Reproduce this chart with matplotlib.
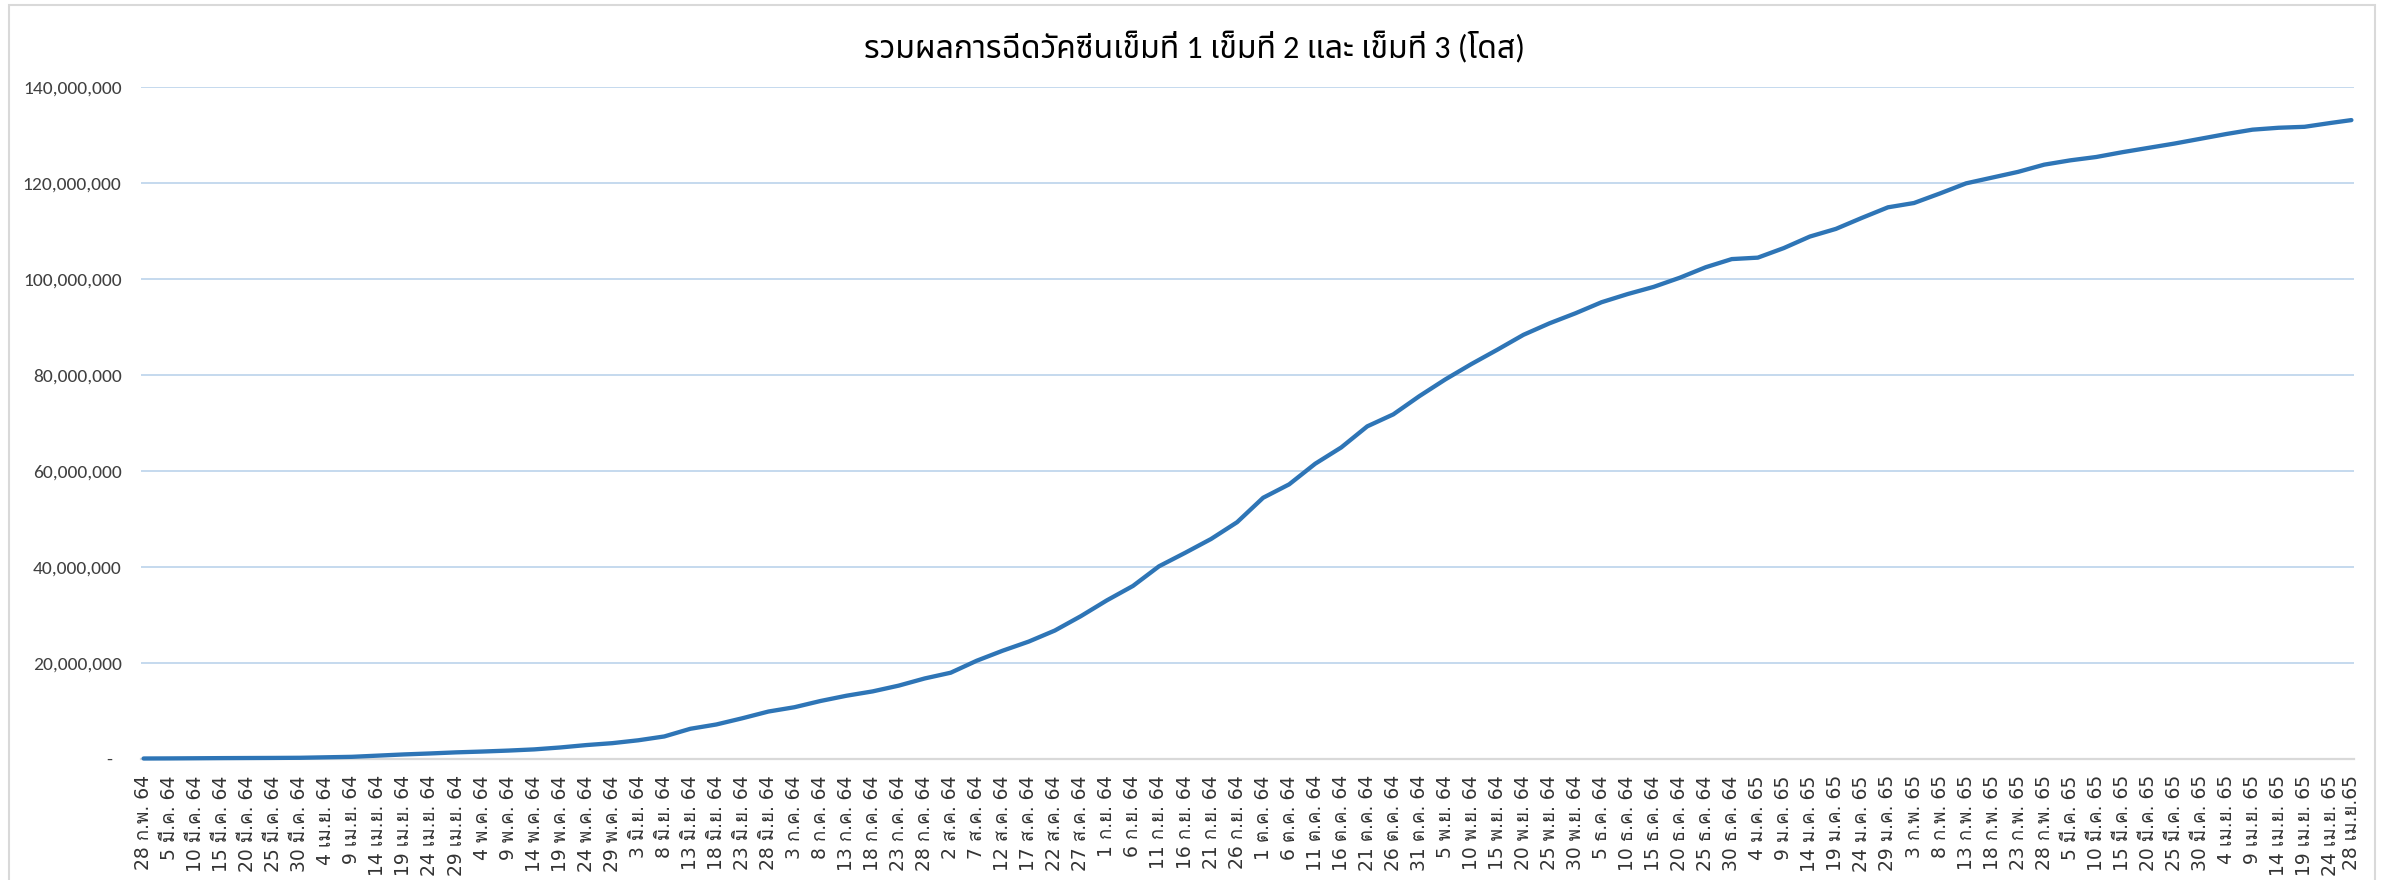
import matplotlib
matplotlib.use("Agg")
import matplotlib.pyplot as plt
from matplotlib import font_manager as fm
from matplotlib.patches import Rectangle
from matplotlib.ticker import FuncFormatter
import pandas as pd

# ---------------- data ----------------
title = "รวมผลการฉีดวัคซีนเข็มที่ 1 เข็มที่ 2 และ เข็มที่ 3 (โดส)"
first_day = "2021-02-28"
last_day = "2022-04-28"

tick_labels = [
    "28 ก.พ. 64", "5 มี.ค. 64", "10 มี.ค. 64", "15 มี.ค. 64", "20 มี.ค. 64", "25 มี.ค. 64",
    "30 มี.ค. 64", "4 เม.ย. 64", "9 เม.ย. 64", "14 เม.ย. 64", "19 เม.ย. 64", "24 เม.ย. 64",
    "29 เม.ย. 64", "4 พ.ค. 64", "9 พ.ค. 64", "14 พ.ค. 64", "19 พ.ค. 64", "24 พ.ค. 64",
    "29 พ.ค. 64", "3 มิ.ย. 64", "8 มิ.ย. 64", "13 มิ.ย. 64", "18 มิ.ย. 64", "23 มิ.ย. 64",
    "28 มิ.ย. 64", "3 ก.ค. 64", "8 ก.ค. 64", "13 ก.ค. 64", "18 ก.ค. 64", "23 ก.ค. 64",
    "28 ก.ค. 64", "2 ส.ค. 64", "7 ส.ค. 64", "12 ส.ค. 64", "17 ส.ค. 64", "22 ส.ค. 64",
    "27 ส.ค. 64", "1 ก.ย. 64", "6 ก.ย. 64", "11 ก.ย. 64", "16 ก.ย. 64", "21 ก.ย. 64",
    "26 ก.ย. 64", "1 ต.ค. 64", "6 ต.ค. 64", "11 ต.ค. 64", "16 ต.ค. 64", "21 ต.ค. 64",
    "26 ต.ค. 64", "31 ต.ค. 64", "5 พ.ย. 64", "10 พ.ย. 64", "15 พ.ย. 64", "20 พ.ย. 64",
    "25 พ.ย. 64", "30 พ.ย. 64", "5 ธ.ค. 64", "10 ธ.ค. 64", "15 ธ.ค. 64", "20 ธ.ค. 64",
    "25 ธ.ค. 64", "30 ธ.ค. 64", "4 ม.ค. 65", "9 ม.ค. 65", "14 ม.ค. 65", "19 ม.ค. 65",
    "24 ม.ค. 65", "29 ม.ค. 65", "3 ก.พ. 65", "8 ก.พ. 65", "13 ก.พ. 65", "18 ก.พ. 65",
    "23 ก.พ. 65", "28 ก.พ. 65", "5 มี.ค. 65", "10 มี.ค. 65", "15 มี.ค. 65", "20 มี.ค. 65",
    "25 มี.ค. 65", "30 มี.ค. 65", "4 เม.ย. 65", "9 เม.ย. 65", "14 เม.ย. 65", "19 เม.ย. 65",
    "24 เม.ย. 65", "28 เม.ย.65",
]

# cumulative doses (millions) at each labelled date
doses_million = [
    0.00, 0.02, 0.05, 0.08, 0.10, 0.12,
    0.15, 0.25, 0.35, 0.60, 0.85, 1.05,
    1.28, 1.45, 1.65, 1.90, 2.30, 2.80,
    3.20, 3.80, 4.60, 6.20, 7.10, 8.40,
    9.80, 10.7, 12.0, 13.1, 14.0, 15.2,
    16.7, 17.9, 20.4, 22.5, 24.4, 26.7,
    29.7, 33.0, 36.0, 40.1, 42.9, 45.8,
    49.3, 54.4, 57.2, 61.5, 64.9, 69.3,
    71.8, 75.6, 79.1, 82.3, 85.3, 88.4,
    90.8, 92.9, 95.2, 96.9, 98.4, 100.3,
    102.5, 104.2, 104.5, 106.5, 108.9, 110.5,
    112.8, 115.0, 115.9, 117.9, 120.0, 121.2,
    122.4, 123.9, 124.8, 125.5, 126.5, 127.4,
    128.3, 129.3, 130.3, 131.2, 131.6, 131.8,
    132.6, 133.2,
]

y_ticks = [0, 20e6, 40e6, 60e6, 80e6, 100e6, 120e6, 140e6]

# ---------------- fonts ----------------
avail = {f.name for f in fm.fontManager.ttflist}


def pick(*names):
    return [n for n in names if n in avail] or ["DejaVu Sans"]


num_font = pick("Carlito", "Liberation Sans Narrow", "DejaVu Sans")
thai_title_font = num_font + pick("Noto Sans Thai", "Loma", "Sarabun")
tick_font = pick("DejaVu Sans") + pick("Loma", "Noto Sans Thai", "Sarabun")

# ---------------- positions on the category (daily) axis ----------------
sample_dates = list(pd.date_range(first_day, "2022-04-24", freq="5D")) + [pd.Timestamp(last_day)]
x_pos = [(d - pd.Timestamp(first_day)).days for d in sample_dates]
n_days = (pd.Timestamp(last_day) - pd.Timestamp(first_day)).days + 1
y_vals = [v * 1e6 for v in doses_million]

# ---------------- figure ----------------
W, H = 2389, 880
fig = plt.figure(figsize=(W / 100, H / 100), dpi=100)
fig.patch.set_facecolor("white")

left, right = 141 / W, 2354 / W
bottom, top = 1 - 758.5 / H, 1 - 87.5 / H
ax = fig.add_axes([left, bottom, right - left, top - bottom])

ax.plot(x_pos, y_vals, color="#2E75B6", lw=3.1, solid_joinstyle="round",
        solid_capstyle="round", zorder=3, clip_on=False)

ax.set_xlim(-0.5, n_days - 0.5)
ax.set_ylim(0, 140e6)
ax.set_yticks(y_ticks)
ax.yaxis.set_major_formatter(FuncFormatter(lambda v, p: f"{v:,.0f}" if v else "-  "))
ax.grid(axis="y", color="#C5D9EE", lw=1.4, zorder=0)
ax.set_axisbelow(True)

for s in ["top", "right", "left"]:
    ax.spines[s].set_visible(False)
ax.spines["bottom"].set_color("#D9D9D9")
ax.spines["bottom"].set_linewidth(1.6)

ax.set_xticks(x_pos)
ax.set_xticklabels(tick_labels, rotation=90, family=tick_font, fontsize=13.5,
                   color="#333333")
ax.tick_params(axis="x", length=0, pad=12)
ax.tick_params(axis="y", length=0, pad=14, labelsize=14, labelcolor="#404040")
for lab in ax.get_yticklabels():
    lab.set_family(num_font)

fig.text(0.5, 1 - 46 / H, title, ha="center", va="center", fontsize=23,
         family=thai_title_font, color="#000000")

# chart-area border
fig.add_artist(Rectangle((9 / W, -0.05), (2375 - 9) / W, 1.05 - 5 / H,
                         transform=fig.transFigure, fill=False,
                         edgecolor="#D9D9D9", lw=1.5))

fig.savefig("out.png", dpi=100, facecolor="white")
